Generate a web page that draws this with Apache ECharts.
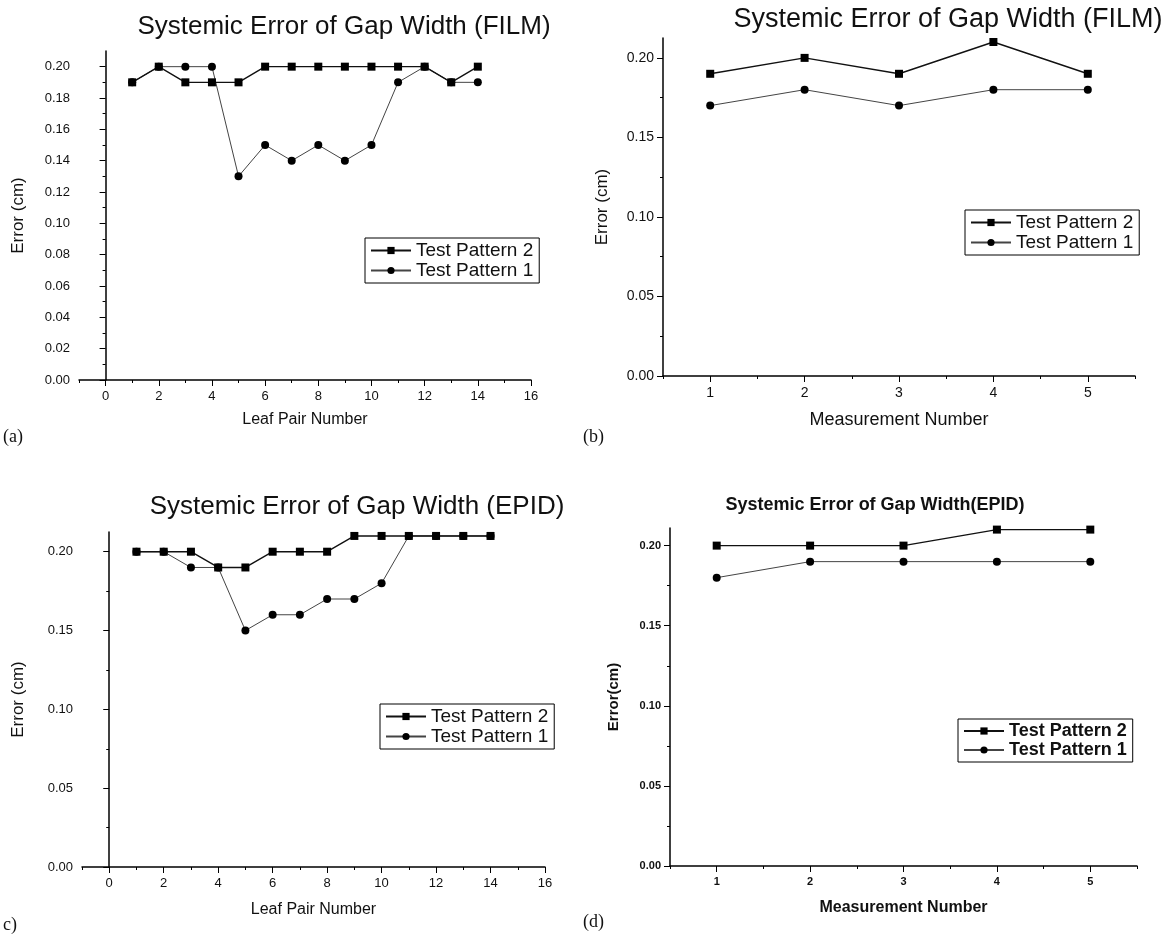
<!DOCTYPE html>
<html>
<head>
    <meta charset="utf-8">
    <script src="https://cdn.jsdelivr.net/npm/echarts@6/dist/echarts.min.js"></script>
    <style>
        body { margin: 0; background: #fff; }
    </style>
</head>
<body>
	<div id="main" style="width: 1164px; height: 935px;"></div>
	<script type="text/javascript">
		// ---- data ----
		var leafPairs = [1,2,3,4,5,6,7,8,9,10,11,12,13,14]
		var measNums = [1,2,3,4,5]

		var filmLeafP2 = [0.19,0.20,0.19,0.19,0.19,0.20,0.20,0.20,0.20,0.20,0.20,0.20,0.19,0.20]
		var filmLeafP1 = [0.19,0.20,0.20,0.20,0.13,0.15,0.14,0.15,0.14,0.15,0.19,0.20,0.19,0.19]
		var filmMeasP2 = [0.19,0.20,0.19,0.21,0.19]
		var filmMeasP1 = [0.17,0.18,0.17,0.18,0.18]
		var epidLeafP2 = [0.20,0.20,0.20,0.19,0.19,0.20,0.20,0.20,0.21,0.21,0.21,0.21,0.21,0.21]
		var epidLeafP1 = [0.20,0.20,0.19,0.19,0.15,0.16,0.16,0.17,0.17,0.18,0.21,0.21,0.21,0.21]
		var epidMeasP2 = [0.20,0.20,0.20,0.21,0.21]
		var epidMeasP1 = [0.18,0.19,0.19,0.19,0.19]

		// tick labels
		var leafTicks = [0,2,4,6,8,10,12,14,16]
		var leafMinor = [-1,1,3,5,7,9,11,13,15]
		var measTicks = [1,2,3,4,5]
		var measMinor = [0.5,1.5,2.5,3.5,4.5,5.5]
		var errTicksFine = [0,0.02,0.04,0.06,0.08,0.10,0.12,0.14,0.16,0.18,0.20]
		var errMinorFine = [0.01,0.03,0.05,0.07,0.09,0.11,0.13,0.15,0.17,0.19]
		var errTicks = [0,0.05,0.10,0.15,0.20]
		var errMinor = [0.025,0.075,0.125,0.175]

		var seriesNames = ['Test Pattern 2','Test Pattern 1']
		var FONT = 'Liberation Sans'

		var myChart = echarts.init(document.getElementById('main'))

		// one entry per panel
		var panels = [
			{ grid: {left: 79, top: 51, width: 452, height: 329},
			  x: {min: -1, max: 16, ticks: leafTicks, minor: leafMinor, name: 'Leaf Pair Number', gap: 32, ns: 16},
			  y: {min: 0, max: 0.21, ticks: errTicksFine, minor: errMinorFine, name: 'Error (cm)', gap: 52, ns: 17},
			  xs: leafPairs, p2: filmLeafP2, p1: filmLeafP1,
			  title: {text: 'Systemic Error of Gap Width (FILM)', x: 339, y: 9, size: 26, bold: false},
			  legend: {left: 365, top: 238}, tag: {text: '(a)', x: 3, y: 428}, bold: false, fs: 13 },
			{ grid: {left: 663, top: 38, width: 472, height: 338},
			  x: {min: 0.5, max: 5.5, ticks: measTicks, minor: measMinor, name: 'Measurement Number', gap: 35, ns: 18},
			  y: {min: 0, max: 0.2125, ticks: errTicks, minor: errMinor, name: 'Error (cm)', gap: 52, ns: 17},
			  xs: measNums, p2: filmMeasP2, p1: filmMeasP1,
			  title: {text: 'Systemic Error of Gap Width (FILM)', x: 943, y: 1, size: 27, bold: false},
			  legend: {left: 965, top: 210}, tag: {text: '(b)', x: 583, y: 428}, bold: false, fs: 14 },
			{ grid: {left: 82, top: 532, width: 463, height: 335},
			  x: {min: -1, max: 16, ticks: leafTicks, minor: leafMinor, name: 'Leaf Pair Number', gap: 35, ns: 16},
			  y: {min: 0, max: 0.2125, ticks: errTicks, minor: errMinor, name: 'Error (cm)', gap: 55, ns: 17},
			  xs: leafPairs, p2: epidLeafP2, p1: epidLeafP1,
			  title: {text: 'Systemic Error of Gap Width (EPID)', x: 352, y: 489, size: 26, bold: false},
			  legend: {left: 380, top: 704}, tag: {text: 'c)', x: 3, y: 916}, bold: false, fs: 13 },
			{ grid: {left: 670, top: 528, width: 467, height: 338},
			  x: {min: 0.5, max: 5.5, ticks: measTicks, minor: measMinor, name: 'Measurement Number', gap: 34, ns: 16},
			  y: {min: 0, max: 0.211, ticks: errTicks, minor: errMinor, name: 'Error(cm)', gap: 49, ns: 15},
			  xs: measNums, p2: epidMeasP2, p1: epidMeasP1,
			  title: {text: 'Systemic Error of Gap Width(EPID)', x: 870, y: 491, size: 18, bold: true},
			  legend: {left: 958, top: 719}, tag: {text: '(d)', x: 583, y: 913}, bold: true, fs: 11 }
		]

		var grids = [], xAxes = [], yAxes = [], series = [], titles = [], legends = [], graphics = []

		panels.forEach(function (p, g) {
			var weight = p.bold ? 'bold' : 'normal'
			grids.push(Object.assign({outerBoundsMode: 'none'}, p.grid))
			titles.push({
				text: p.title.text, left: p.title.x, top: p.title.y, textAlign: 'center',
				textStyle: {fontFamily: FONT, fontSize: p.title.size, fontWeight: p.title.bold ? 'bold' : 'normal', color: '#111'}
			})
			// main x axis (carries data, labels, minor ticks)
			xAxes.push({
				gridIndex: g, type: 'value', position: 'bottom', min: p.x.min, max: p.x.max,
				name: p.x.name, nameLocation: 'middle', nameGap: p.x.gap,
				nameTextStyle: {fontFamily: FONT, fontSize: p.x.ns, fontWeight: weight, color: '#111'},
				axisLine: {show: true, lineStyle: {color: '#000', width: 1.5}},
				axisTick: {show: true, customValues: p.x.minor, length: 3, lineStyle: {color: '#000'}},
				axisLabel: {customValues: p.x.ticks, fontFamily: FONT, fontSize: p.fs, fontWeight: weight, color: '#111', margin: 10},
				splitLine: {show: false}
			})
			// overlay x axis for the longer major ticks
			xAxes.push({
				gridIndex: g, type: 'value', position: 'bottom', min: p.x.min, max: p.x.max,
				axisLine: {show: false},
				axisTick: {show: true, customValues: p.x.ticks, length: 6, lineStyle: {color: '#000'}},
				axisLabel: {show: false}, splitLine: {show: false}
			})
			yAxes.push({
				gridIndex: g, type: 'value', position: 'left', min: p.y.min, max: p.y.max,
				name: p.y.name, nameLocation: 'middle', nameGap: p.y.gap,
				nameTextStyle: {fontFamily: FONT, fontSize: p.y.ns, fontWeight: weight, color: '#111'},
				axisLine: {show: true, lineStyle: {color: '#000', width: 1.5}},
				axisTick: {show: true, customValues: p.y.minor, length: 3, lineStyle: {color: '#000'}},
				axisLabel: {customValues: p.y.ticks, fontFamily: FONT, fontSize: p.fs, fontWeight: weight, color: '#111', margin: 9,
					formatter: function (v) { return v.toFixed(2) }},
				splitLine: {show: false}
			})
			yAxes.push({
				gridIndex: g, type: 'value', position: 'left', min: p.y.min, max: p.y.max,
				axisLine: {show: false},
				axisTick: {show: true, customValues: p.y.ticks, length: 6, lineStyle: {color: '#000'}},
				axisLabel: {show: false}, splitLine: {show: false}
			})
			series.push({
				name: seriesNames[0], type: 'line', xAxisIndex: 2 * g, yAxisIndex: 2 * g,
				data: p.xs.map(function (x, i) { return [x, p.p2[i]] }),
				symbol: 'rect', symbolSize: 8, itemStyle: {color: '#000'},
				lineStyle: {color: '#111', width: 1.4}, animation: false, z: 3
			})
			series.push({
				name: seriesNames[1], type: 'line', xAxisIndex: 2 * g, yAxisIndex: 2 * g,
				data: p.xs.map(function (x, i) { return [x, p.p1[i]] }),
				symbol: 'circle', symbolSize: 8, itemStyle: {color: '#000'},
				lineStyle: {color: '#444', width: 1}, animation: false, z: 2
			})
			legends.push({
				data: seriesNames, orient: 'vertical', left: p.legend.left, top: p.legend.top,
				itemWidth: 40, itemHeight: 9, itemGap: 1, padding: [3, 6, 3, 5],
				borderColor: '#000', borderWidth: 1, borderRadius: 0,
				textStyle: {fontFamily: FONT, fontSize: p.bold ? 18 : 19, fontWeight: weight, color: '#111'},
				selectedMode: false
			})
			graphics.push({
				type: 'text', left: p.tag.x, top: p.tag.y,
				style: {text: p.tag.text, fontFamily: 'Liberation Serif', fontSize: 18, fill: '#111'}
			})
		})

option = {
    backgroundColor: '#fff',
    animation: false,
    title: titles,
    legend: legends,
    grid: grids,
    xAxis: xAxes,
    yAxis: yAxes,
    series: series,
    graphic: graphics
};
	myChart.setOption(option)
	</script>
</body>
</html>
